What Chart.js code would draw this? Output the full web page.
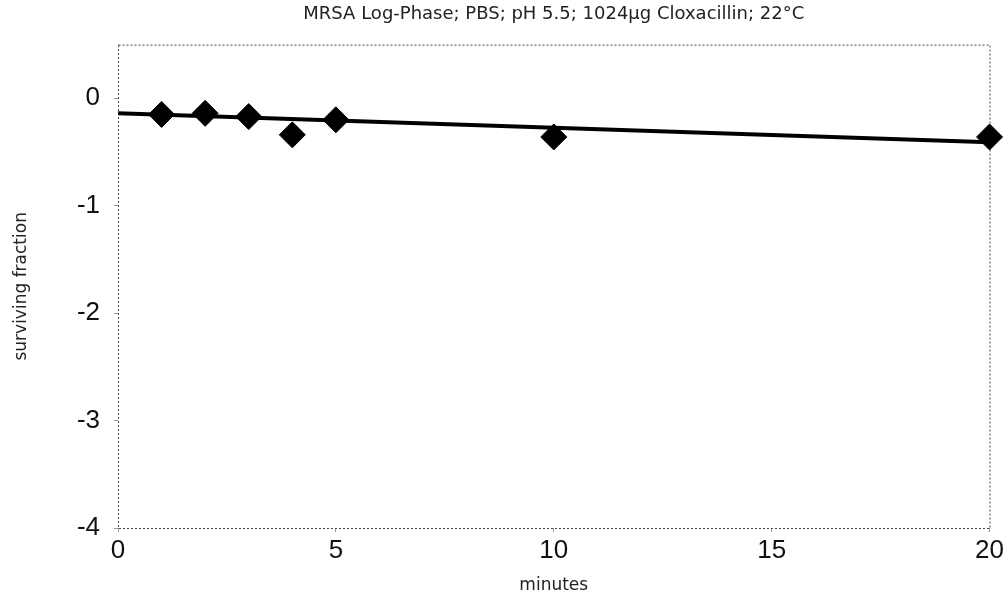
<!DOCTYPE html>
<html>
<head>
<meta charset="utf-8">
<script src="https://cdn.jsdelivr.net/npm/chart.js@4"></script>
<style>
  body { margin: 0; background: #fff; }
  #wrap { width: 1007px; height: 600px; }
</style>
</head>
<body>
<div id="wrap"><canvas id="myChart" width="1007" height="600"></canvas></div>
<script>
// measured points (minutes vs log surviving fraction)
var minutes = [1, 2, 3, 4, 5, 10, 20];
var survival = [-0.15, -0.14, -0.17, -0.34, -0.20, -0.36, -0.36];
// fitted trend line endpoints
var fitMinutes = [0, 20];
var fitSurvival = [-0.14, -0.41];
var xTicks = [0, 5, 10, 15, 20];
var yTicks = [0, -1, -2, -3, -4];

function toPoints(xs, ys) {
    return xs.map(function(x, i) { return { x: x, y: ys[i] }; });
}

// dotted frame round the plot area
var dottedFrame = {
    id: 'dottedFrame',
    beforeDatasetsDraw: function(chart) {
        var a = chart.chartArea, ctx = chart.ctx;
        ctx.save();
        ctx.strokeStyle = '#444';
        ctx.lineWidth = 1;
        ctx.setLineDash([2, 2]);
        ctx.strokeRect(a.left + 0.5, a.top + 0.5, a.right - a.left, a.bottom - a.top);
        ctx.restore();
    }
};

new Chart(document.getElementById('myChart').getContext('2d'), {
    type: 'scatter',
    data: {
        datasets: [{
            label: 'fit',
            type: 'line',
            data: toPoints(fitMinutes, fitSurvival),
            borderColor: '#000',
            borderWidth: 4,
            pointRadius: 0,
            fill: false,
            order: 2
        }, {
            label: 'surviving fraction',
            data: toPoints(minutes, survival),
            pointStyle: 'rectRot',
            pointRadius: 13,
            pointBackgroundColor: '#000',
            pointBorderColor: '#000',
            pointBorderWidth: 1,
            clip: false,
            order: 1
        }]
    },
    options: {
        responsive: false,
        animation: false,
        layout: { padding: { left: 0, right: 17, top: 0, bottom: 0 } },
        plugins: {
            legend: { display: false },
            tooltip: { enabled: false },
            title: {
                display: true,
                fullSize: false,
                text: 'MRSA Log-Phase; PBS; pH 5.5; 1024µg Cloxacillin; 22°C',
                color: '#222',
                font: { family: 'DejaVu Sans', size: 18, weight: 'normal' },
                padding: { top: 4, bottom: 19 }
            }
        },
        scales: {
            x: {
                type: 'linear',
                min: 0,
                max: 20,
                afterBuildTicks: function(scale) {
                    scale.ticks = xTicks.map(function(v) { return { value: v }; });
                },
                afterFit: function(scale) { scale.height = 72; },
                grid: { drawOnChartArea: false, tickLength: 4, color: '#999' },
                border: { display: false },
                ticks: {
                    color: '#111',
                    padding: 3,
                    font: { family: 'Liberation Sans', size: 26 }
                },
                title: {
                    display: true,
                    text: 'minutes',
                    color: '#222',
                    font: { family: 'DejaVu Sans', size: 17 },
                    padding: { top: 0, bottom: 4 }
                }
            },
            y: {
                min: -4,
                max: 0.5,
                afterBuildTicks: function(scale) {
                    scale.ticks = yTicks.map(function(v) { return { value: v }; });
                },
                afterFit: function(scale) { scale.width = 118; },
                grid: { drawOnChartArea: false, tickLength: 4, color: '#999' },
                border: { display: false },
                ticks: {
                    color: '#111',
                    padding: 14,
                    font: { family: 'Liberation Sans', size: 26 }
                },
                title: {
                    display: true,
                    text: 'surviving fraction',
                    color: '#222',
                    font: { family: 'DejaVu Sans', size: 17 },
                    padding: { top: 11, bottom: 0 }
                }
            }
        }
    },
    plugins: [dottedFrame]
});
</script>
</body>
</html>
